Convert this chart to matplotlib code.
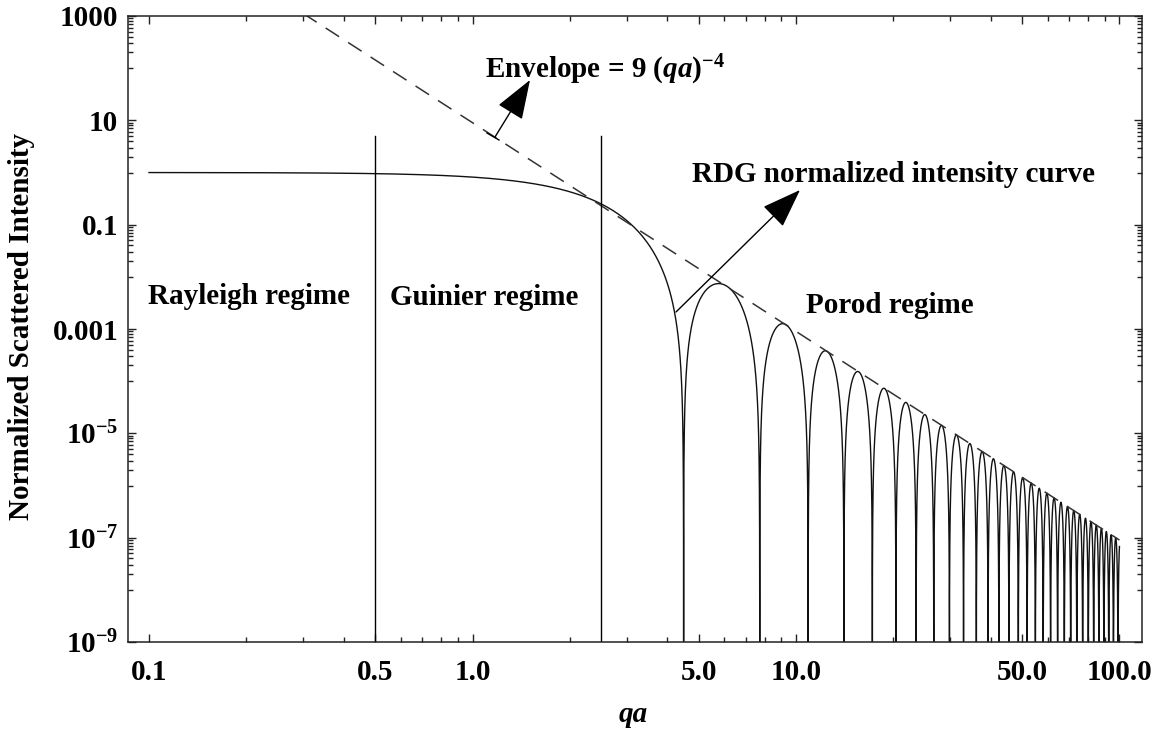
import numpy as np
import matplotlib
matplotlib.use("Agg")
import matplotlib.pyplot as plt
from matplotlib.patches import ArrowStyle
from matplotlib.lines import Line2D

# ---------------- data ----------------
qa_range = [0.1, 100.0]             # plotted range of qa
envelope_coef = 9.0                 # Envelope = 9 (qa)^-4
envelope_exp = -4.0
regime_bounds = [0.5, 2.5]          # vertical regime separators
regime_line_top = 5.0
x_major = [0.1, 0.5, 1.0, 5.0, 10.0, 50.0, 100.0]
x_major_labels = ["0.1", "0.5", "1.0", "5.0", "10.0", "50.0", "100.0"]
x_minor = [0.2, 0.3, 0.4, 0.6, 0.7, 0.8, 0.9, 2, 3, 4, 6, 7, 8, 9,
           20, 30, 40, 60, 70, 80, 90]
y_major = [1e3, 1e1, 1e-1, 1e-3, 1e-5, 1e-7, 1e-9]
y_major_labels = ["1000", "10", "0.1", "0.001",
                  r"$10^{-5}$", r"$10^{-7}$", r"$10^{-9}$"]
y_minor_exps = [2, 0, -2, -4, -6, -8]
y_minor_mult = [1, 2, 3, 4, 5, 6, 7, 8, 9]
regime_labels = ["Rayleigh regime", "Guinier regime", "Porod regime"]

# ---------------- style ----------------
plt.rcParams['font.family'] = ['Liberation Serif', 'DejaVu Serif']
plt.rcParams['font.weight'] = 'bold'
plt.rcParams['mathtext.fontset'] = 'custom'
plt.rcParams['mathtext.rm'] = 'Liberation Serif:bold'
plt.rcParams['mathtext.bf'] = 'Liberation Serif:bold'
plt.rcParams['mathtext.it'] = 'Liberation Serif:italic:bold'
FS = 21

W, H = 1157, 731
fig = plt.figure(figsize=(W / 100, H / 100), dpi=100)

def fpx(px, py):
    return (px / W, 1 - py / H)

L, R, T, B = 128, 1142, 16, 642
ax = fig.add_axes([L / W, 1 - B / H, (R - L) / W, (B - T) / H])
ax.set_xscale('log')
ax.set_yscale('log')
ax.set_xlim(0.0861, 117.4)
ax.set_ylim(1e-9, 1e3)

# RDG curve (sphere form factor) and envelope
q = np.logspace(np.log10(qa_range[0]), np.log10(qa_range[1]), 300000)
rdg = (3.0 * (np.sin(q) - q * np.cos(q)) / q**3) ** 2
rdg = np.maximum(rdg, 1e-14)
env = envelope_coef * q ** envelope_exp

ax.plot(q, rdg, color='#111111', lw=1.0, solid_joinstyle='miter')
ax.plot(q, env, color='#333333', lw=1.1, dashes=(10.5, 7.0))

for xb in regime_bounds:
    ax.plot([xb, xb], [1e-9, regime_line_top], color='black', lw=1.0)

# ticks
ax.xaxis.set_major_locator(matplotlib.ticker.FixedLocator(x_major))
ax.xaxis.set_minor_locator(matplotlib.ticker.FixedLocator(x_minor))
ax.set_xticklabels(x_major_labels)
ax.xaxis.set_minor_formatter(matplotlib.ticker.NullFormatter())
ax.yaxis.set_major_locator(matplotlib.ticker.FixedLocator(y_major))
ymin = [m * 10.0 ** e for e in y_minor_exps for m in y_minor_mult]
ax.yaxis.set_minor_locator(matplotlib.ticker.FixedLocator(ymin))
ax.set_yticklabels(y_major_labels)
ax.yaxis.set_minor_formatter(matplotlib.ticker.NullFormatter())

ax.tick_params(which='both', direction='in', top=True, right=True,
               color='#222222', width=1.0)
ax.tick_params(which='major', length=5.5, labelsize=FS)
ax.tick_params(which='minor', length=3.3)
ax.tick_params(axis='x', which='major', pad=12)
ax.tick_params(axis='y', which='major', pad=7)
for s in ax.spines.values():
    s.set_linewidth(1.1)
    s.set_color('#222222')

# axis labels
fig.text(*fpx(22, 326), "Normalized Scattered Intensity", rotation=90,
         ha='center', va='center', fontsize=FS, fontweight='bold')
fig.text(*fpx(633, 722), "qa", ha='center', va='baseline', fontsize=FS,
         fontweight='bold', fontstyle='italic')

# regime labels
fig.text(*fpx(148, 304), regime_labels[0], ha='left', va='baseline', fontsize=FS)
fig.text(*fpx(390, 305), regime_labels[1], ha='left', va='baseline', fontsize=FS)
fig.text(*fpx(806, 313), regime_labels[2], ha='left', va='baseline', fontsize=FS)

# annotations
fig.text(*fpx(485, 78), r"Envelope = 9 ($qa\mathrm{)}^{-4}$", ha='left',
         va='baseline', fontsize=FS)
fig.text(*fpx(692, 182), "RDG normalized intensity curve", ha='left',
         va='baseline', fontsize=FS)

astyle = ArrowStyle('-|>', head_length=1.0, head_width=0.36)
ax.annotate('', xy=fpx(530, 80), xytext=fpx(495, 137),
            xycoords='figure fraction', textcoords='figure fraction',
            arrowprops=dict(arrowstyle=astyle, mutation_scale=25, lw=1.0,
                            color='black', shrinkA=0, shrinkB=0))
ax.annotate('', xy=fpx(800, 190), xytext=fpx(676, 312),
            xycoords='figure fraction', textcoords='figure fraction',
            arrowprops=dict(arrowstyle=astyle, mutation_scale=25, lw=1.0,
                            color='black', shrinkA=0, shrinkB=0))
x0, y0 = fpx(487, 133)
x1, y1 = fpx(499, 140)
fig.add_artist(Line2D([x0, x1], [y0, y1], transform=fig.transFigure,
                      color='black', lw=1.0))

fig.savefig("out.png", dpi=100, facecolor='white')
